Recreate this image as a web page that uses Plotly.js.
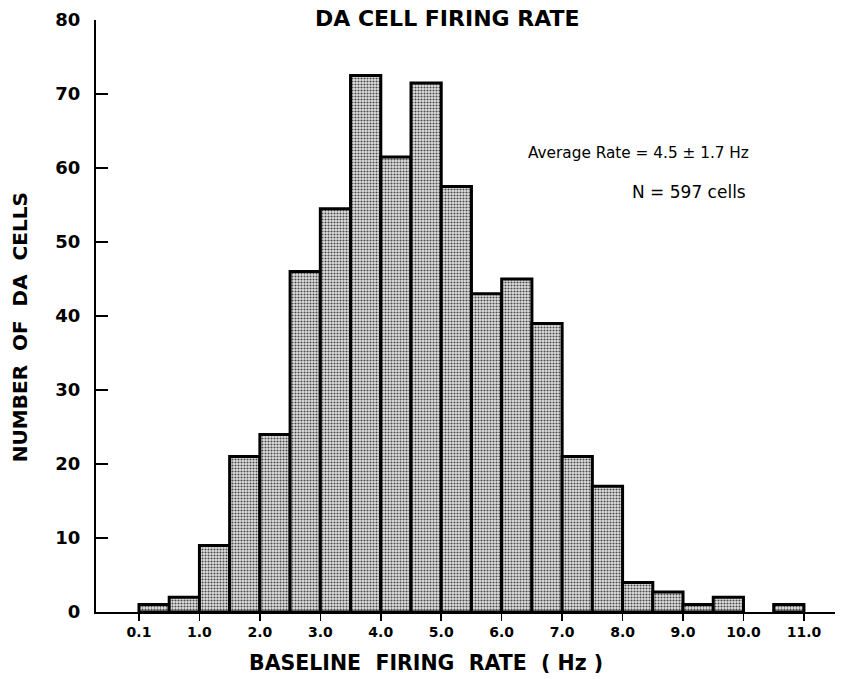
<!DOCTYPE html>
<html>
<head>
<meta charset="utf-8">
<script src="https://cdn.plot.ly/plotly-3.0.1.min.js"></script>
<style>
  html, body { margin: 0; padding: 0; background: #fff; }
  #chart { width: 846px; height: 679px; }
</style>
</head>
<body>
<div id="chart"></div>
<script>
// Bin start (Hz), 0.5 Hz wide bins
const binStarts = [0, 0.5, 1.0, 1.5, 2.0, 2.5, 3.0, 3.5, 4.0, 4.5, 5.0, 5.5, 6.0, 6.5, 7.0, 7.5, 8.0, 8.5, 9.0, 9.5, 10.0, 10.5];
const binWidth = 0.5;
// Number of DA cells per bin
const cellCounts = [1, 2, 9, 21, 24, 46, 54.5, 72.5, 61.5, 71.5, 57.5, 43, 45, 39, 21, 17, 4, 2.7, 1, 2, 0, 1];
// X tick positions and labels
const xTickVals = [0, 1, 2, 3, 4, 5, 6, 7, 8, 9, 10, 11];
const xTickText = ["0.1", "1.0", "2.0", "3.0", "4.0", "5.0", "6.0", "7.0", "8.0", "9.0", "10.0", "11.0"];
const yTickVals = [0, 10, 20, 30, 40, 50, 60, 70, 80];

const titleText = "DA CELL FIRING RATE";
const xTitleText = "BASELINE  FIRING  RATE  ( Hz )";
const yTitleText = "NUMBER  OF  DA  CELLS";
const noteLines = ["Average Rate = 4.5 \u00b1 1.7 Hz", "N = 597 cells"];

const FONT = "DejaVu Sans, Arial, sans-serif";

const trace = {
  type: "bar",
  x: binStarts.map(b => b + binWidth / 2),
  y: cellCounts,
  width: binStarts.map(() => binWidth),
  marker: {
    color: "#c4c4c4",
    pattern: { shape: ".", fgcolor: "#4a4a4a", bgcolor: "#e2e2e2", size: 3, solidity: 0.38 },
    line: { color: "#000", width: cellCounts.map(v => v > 0 ? 3 : 0) }
  },
  hoverinfo: "x+y"
};

const layout = {
  width: 846,
  height: 679,
  margin: { l: 96, r: 11, t: 20, b: 67 },
  paper_bgcolor: "#fff",
  plot_bgcolor: "#fff",
  showlegend: false,
  bargap: 0,
  font: { family: FONT, color: "#000" },
  xaxis: {
    range: [-0.711, 11.514],
    tickvals: xTickVals,
    ticktext: xTickText,
    ticks: "outside",
    ticklen: 7,
    tickwidth: 1.5,
    tickcolor: "#000",
    showline: true,
    linecolor: "#000",
    linewidth: 1.5,
    showgrid: false,
    zeroline: false,
    tickfont: { family: FONT, size: 14, weight: 600, color: "#000" }
  },
  yaxis: {
    range: [0, 80],
    tickvals: yTickVals,
    ticks: "inside",
    ticklen: 12,
    tickwidth: 1.5,
    tickcolor: "#000",
    showline: true,
    linecolor: "#000",
    linewidth: 2,
    showgrid: false,
    zeroline: false,
    ticklabelstandoff: 10,
    tickfont: { family: FONT, size: 18, weight: 700, color: "#000" }
  },
  annotations: [
    { text: titleText, xref: "paper", yref: "paper", x: 0.476, y: 1.003, xanchor: "center", yanchor: "middle",
      showarrow: false, font: { family: FONT, size: 22, weight: 600 } },
    { text: xTitleText, xref: "paper", yref: "paper", x: 0.447, y: -0.086, xanchor: "center", yanchor: "middle",
      showarrow: false, font: { family: FONT, size: 20.5, weight: 600 } },
    { text: yTitleText, xref: "paper", yref: "paper", x: -0.103, y: 0.481, xanchor: "center", yanchor: "middle",
      textangle: -90, showarrow: false, font: { family: FONT, size: 20, weight: 600 } },
    { text: noteLines[0], xref: "paper", yref: "paper", x: 0.582, y: 0.775, xanchor: "left", yanchor: "middle",
      showarrow: false, font: { family: FONT, size: 15.3 } },
    { text: noteLines[1], xref: "paper", yref: "paper", x: 0.7226, y: 0.709, xanchor: "left", yanchor: "middle",
      showarrow: false, font: { family: FONT, size: 17 } }
  ]
};

Plotly.newPlot("chart", [trace], layout, { displayModeBar: false, staticPlot: true });
</script>
</body>
</html>
